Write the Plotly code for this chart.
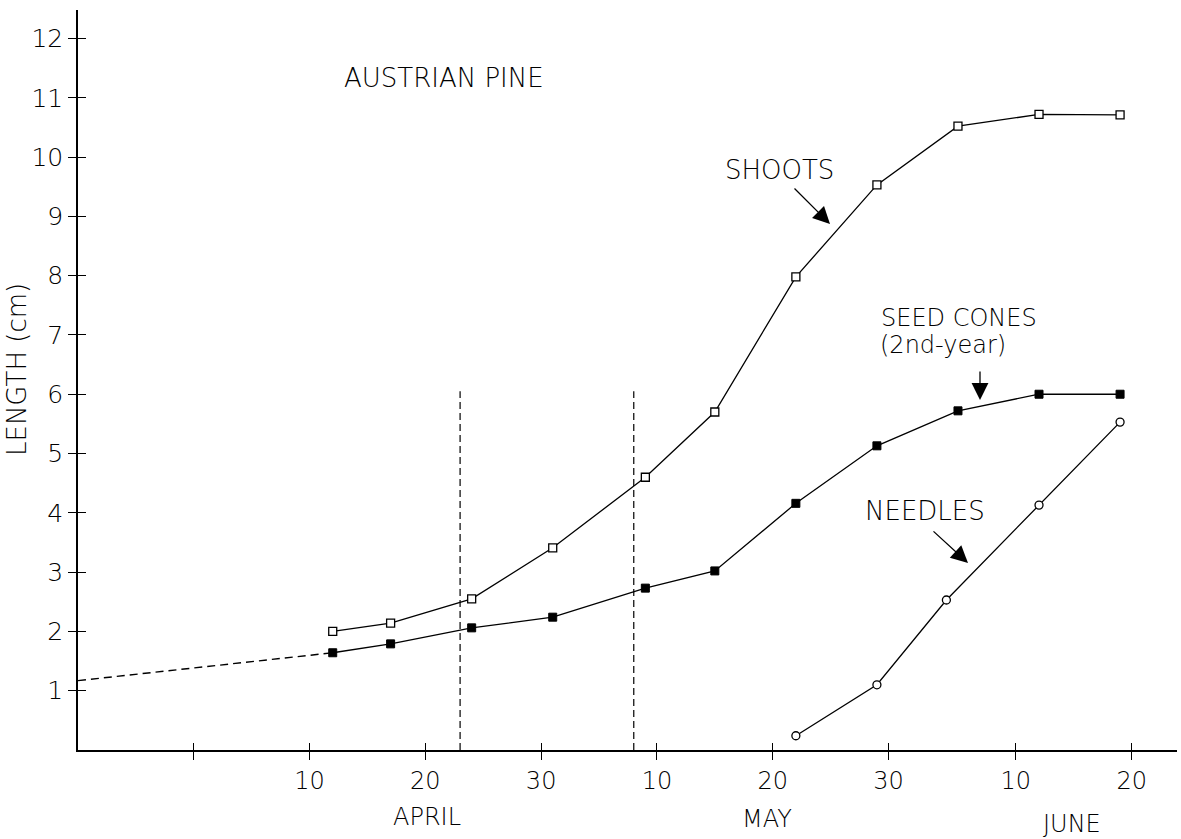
import plotly.graph_objects as go

YEAR = "1977"


def d(md):
    return f"{YEAR}-{md}"


# ---------------- data ----------------
shoot_dates = ["04-12", "04-17", "04-24", "05-01", "05-09", "05-15",
               "05-22", "05-29", "06-05", "06-12", "06-19"]
shoot_len = [2.00, 2.14, 2.55, 3.41, 4.60, 5.70, 7.98, 9.53, 10.52, 10.72, 10.71]

cone_dates = ["04-12", "04-17", "04-24", "05-01", "05-09", "05-15",
              "05-22", "05-29", "06-05", "06-12", "06-19"]
cone_len = [1.64, 1.79, 2.06, 2.24, 2.73, 3.02, 4.16, 5.13, 5.72, 6.00, 6.00]

needle_dates = ["05-22", "05-29", "06-04", "06-12", "06-19"]
needle_len = [0.24, 1.10, 2.53, 4.13, 5.53]

cone_extrap_dates = ["03-21", "04-12"]
cone_extrap_len = [1.17, 1.64]

stage_dates = ["04-23", "05-08"]
stage_top = 6.05

x_tick_dates = ["03-31", "04-10", "04-20", "04-30", "05-10",
                "05-20", "05-30", "06-10", "06-20"]
x_tick_labels = ["", "10", "20", "30", "10", "20", "30", "10", "20"]
y_tick_vals = list(range(1, 13))
y_tick_labels = [str(v) for v in y_tick_vals]

month_labels = ["APRIL", "MAY", "JUNE"]

# ---------------- layout geometry ----------------
FIG_W, FIG_H = 1181, 839
L, R, T, B = 78, 4, 10, 89
PW, PH = FIG_W - L - R, FIG_H - T - B
FONT = "DejaVu Sans"
INK = "black"
LIGHT = 300


def P(xp, yp):
    """pixel position -> paper coordinates"""
    return (xp - L) / PW, (T + PH - yp) / PH


x_range = [d("03-21"), d("06-23 22:00")]
y_range = [0, 12.48]

fig = go.Figure()

# extrapolated early seed-cone growth
fig.add_trace(go.Scatter(
    x=[d(v) for v in cone_extrap_dates], y=cone_extrap_len, mode="lines",
    line=dict(color=INK, width=1.4, dash="8px,5px"), hoverinfo="skip"))

# vertical stage lines
for sd in stage_dates:
    fig.add_trace(go.Scatter(
        x=[d(sd), d(sd)], y=[0, stage_top], mode="lines",
        line=dict(color=INK, width=1.2, dash="7px,4px"), hoverinfo="skip"))

fig.add_trace(go.Scatter(
    x=[d(v) for v in shoot_dates], y=shoot_len, mode="lines+markers", name="Shoots",
    line=dict(color=INK, width=1.3),
    marker=dict(symbol="square", size=8, color="white", line=dict(color=INK, width=1.3))))

fig.add_trace(go.Scatter(
    x=[d(v) for v in cone_dates], y=cone_len, mode="lines+markers", name="Seed cones",
    line=dict(color=INK, width=1.3),
    marker=dict(symbol="square", size=8, color=INK, line=dict(color=INK, width=1))))

fig.add_trace(go.Scatter(
    x=[d(v) for v in needle_dates], y=needle_len, mode="lines+markers", name="Needles",
    line=dict(color=INK, width=1.3),
    marker=dict(symbol="circle", size=8, color="white", line=dict(color=INK, width=1.3))))

# empty trace so the overlay axes (inner half of the crossing ticks) are drawn
fig.add_trace(go.Scatter(x=[], y=[], xaxis="x2", yaxis="y2", showlegend=False))

axis_common = dict(showgrid=False, zeroline=False, showline=True,
                   linecolor=INK, linewidth=1.5, tickcolor=INK, tickwidth=1.4)

fig.update_layout(
    width=FIG_W, height=FIG_H, autosize=False,
    margin=dict(l=L, r=R, t=T, b=B),
    paper_bgcolor="white", plot_bgcolor="white",
    showlegend=False,
    font=dict(family=FONT, color=INK),
    xaxis=dict(type="date", range=x_range, tickmode="array",
               tickvals=[d(v) for v in x_tick_dates], ticktext=x_tick_labels,
               ticks="outside", ticklen=8,
               tickfont=dict(size=24, color=INK, weight=LIGHT),
               **axis_common),
    yaxis=dict(range=y_range, tickmode="array", tickvals=y_tick_vals,
               ticktext=y_tick_labels, ticks="outside", ticklen=8,
               tickfont=dict(size=25, color=INK, weight=LIGHT), **axis_common),
    xaxis2=dict(type="date", range=x_range, overlaying="x", anchor="y",
                tickmode="array", tickvals=[d(v) for v in x_tick_dates],
                ticks="inside", ticklen=7, showticklabels=False, **axis_common),
    yaxis2=dict(range=y_range, overlaying="y", anchor="x", side="left",
                tickmode="array", tickvals=y_tick_vals,
                ticks="inside", ticklen=8, showticklabels=False, **axis_common),
)

ann = []


def text(s, xp, yp, size=26, xanchor="left", angle=0):
    x, y = P(xp, yp)
    ann.append(dict(text=s, x=x, y=y, xref="paper", yref="paper",
                    xanchor=xanchor, yanchor="middle", showarrow=False,
                    textangle=angle,
                    font=dict(family=FONT, size=size, color=INK, weight=LIGHT)))


def arrow(tail, head):
    x, y = P(*head)
    ann.append(dict(text="", x=x, y=y, xref="paper", yref="paper",
                    ax=tail[0] - head[0], ay=tail[1] - head[1],
                    showarrow=True, arrowhead=2, arrowsize=2.6, arrowwidth=1.3,
                    arrowcolor=INK, standoff=0, startstandoff=0))


text("AUSTRIAN PINE", 342, 78)
text("SHOOTS", 723, 170)
text("SEED CONES", 879, 318, size=24)
text("(2nd-year)", 878, 345, size=24)
text("NEEDLES", 863, 511)
text("LENGTH (cm)", 17, 370, size=26, xanchor="center", angle=-90)

arrow((793, 187), (830, 224))
arrow((980, 370), (980, 400))
arrow((932, 530), (968, 563))

# month names under the day ticks
month_px = [(427, 817), (767, 819), (1072, 824)]
for name, (xp, yp) in zip(month_labels, month_px):
    text(name, xp, yp, size=24, xanchor="center")

fig.update_layout(annotations=ann)

fig.write_html("out.html", config={"displayModeBar": False},
               post_script="document.body.style.margin='0';document.body.style.overflow='hidden';")
